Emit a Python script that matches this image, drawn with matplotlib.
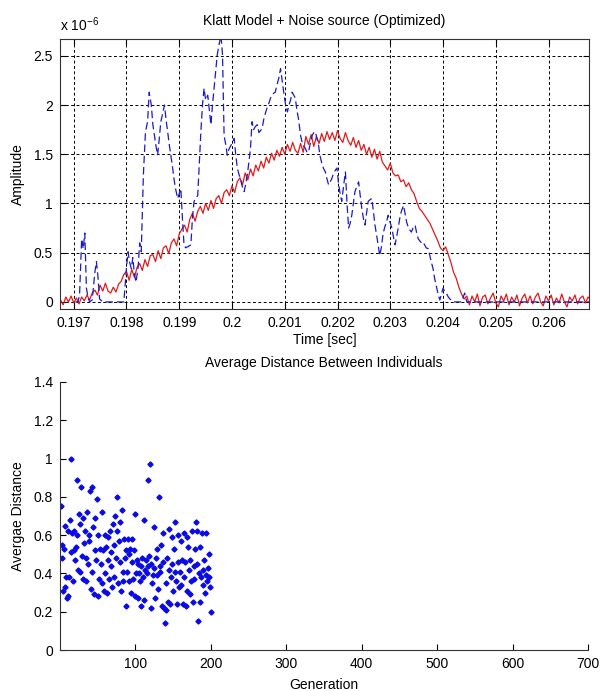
import matplotlib
matplotlib.use('Agg')
import matplotlib.pyplot as plt
from matplotlib.ticker import FuncFormatter
import numpy as np

plt.rcParams['font.family'] = ['Liberation Sans', 'DejaVu Sans']
plt.rcParams['font.size'] = 10

###############################################################################
# Data

# Klatt model output (red), sampled every 0.05 ms starting at t0
t0 = 0.19675
dt = 0.00005
klatt_amp = [
    0.02, -0.03, 0.05, 0.00, 0.06, -0.01, 0.04, -0.02, 0.05, 0.01,
    0.07, 0.02, 0.09, 0.12, 0.07, 0.17, 0.11, 0.19, 0.11, 0.09,
    0.15, 0.10, 0.18, 0.21, 0.28, 0.31, 0.22, 0.33, 0.25, 0.35,
    0.39, 0.32, 0.43, 0.36, 0.47, 0.48, 0.41, 0.52, 0.44, 0.55,
    0.57, 0.49, 0.60, 0.64, 0.57, 0.69, 0.74, 0.78, 0.71, 0.84,
    0.90, 0.82, 0.92, 0.97, 0.90, 1.00, 0.93, 1.03, 0.95, 1.05,
    1.08, 1.00, 1.11, 1.14, 1.08, 1.18, 1.11, 1.22, 1.26, 1.19,
    1.31, 1.24, 1.35, 1.28, 1.39, 1.33, 1.43, 1.36, 1.47, 1.41,
    1.51, 1.44, 1.54, 1.48, 1.57, 1.50, 1.60, 1.53, 1.62, 1.54,
    1.51, 1.61, 1.52, 1.68, 1.60, 1.70, 1.58, 1.68, 1.61, 1.71,
    1.63, 1.73, 1.65, 1.72, 1.64, 1.74, 1.66, 1.62, 1.72, 1.64,
    1.59, 1.67, 1.57, 1.64, 1.54, 1.60, 1.50, 1.57, 1.47, 1.55,
    1.45, 1.53, 1.42, 1.38, 1.34, 1.41, 1.31, 1.28, 1.29, 1.22,
    1.24, 1.17, 1.21, 1.14, 1.10, 1.02, 0.95, 0.92, 0.88, 0.84,
    0.80, 0.74, 0.68, 0.62, 0.55, 0.52, 0.56, 0.48, 0.40, 0.30,
    0.24, 0.15, 0.08, 0.03, 0.06, -0.03, 0.06, 0.00, 0.08, -0.04,
    0.05, 0.07, -0.02, 0.04, 0.09, -0.01, -0.05, 0.06, 0.01, 0.08,
    -0.03, 0.05, 0.00, 0.07, -0.04, 0.04, 0.08, -0.01, 0.06, -0.02,
    0.05, 0.09, 0.00, -0.04, 0.06, 0.01, 0.07, -0.03, 0.04, -0.01,
    0.08, 0.00, -0.05, 0.05, 0.01, 0.07, -0.02, 0.04, 0.06, -0.01,
    0.05, 0.02,
]

# Noise source (blue dashed)
noise_t = [
    0.19703, 0.19708, 0.19711, 0.19715, 0.19718, 0.19721, 0.19724, 0.19727, 0.19730, 0.19735,
    0.19740, 0.19743, 0.19746, 0.19749, 0.19755, 0.19795, 0.19800, 0.19803, 0.19806, 0.19809,
    0.19812, 0.19815, 0.19818, 0.19822, 0.19825, 0.19828, 0.19832, 0.19836, 0.19840, 0.19843,
    0.19847, 0.19850, 0.19853, 0.19856, 0.19859, 0.19862, 0.19865, 0.19868, 0.19872, 0.19875,
    0.19878, 0.19881, 0.19884, 0.19887, 0.19890, 0.19893, 0.19897, 0.19900, 0.19903, 0.19906,
    0.19909, 0.19912, 0.19916, 0.19919, 0.19922, 0.19925, 0.19928, 0.19931, 0.19935, 0.19938,
    0.19941, 0.19944, 0.19947, 0.19950, 0.19954, 0.19957, 0.19960, 0.19963, 0.19966, 0.19969,
    0.19972, 0.19975, 0.19979, 0.19982, 0.19985, 0.19988, 0.19991, 0.19994, 0.19998, 0.20001,
    0.20004, 0.20007, 0.20010, 0.20013, 0.20016, 0.20019, 0.20023, 0.20026, 0.20029, 0.20032,
    0.20035, 0.20038, 0.20041, 0.20044, 0.20048, 0.20051, 0.20054, 0.20057, 0.20060, 0.20064,
    0.20067, 0.20070, 0.20073, 0.20076, 0.20079, 0.20082, 0.20085, 0.20089, 0.20092, 0.20095,
    0.20098, 0.20101, 0.20105, 0.20108, 0.20111, 0.20114, 0.20117, 0.20120, 0.20123, 0.20126,
    0.20130, 0.20133, 0.20136, 0.20139, 0.20142, 0.20145, 0.20148, 0.20152, 0.20155, 0.20158,
    0.20161, 0.20164, 0.20167, 0.20171, 0.20174, 0.20177, 0.20180, 0.20183, 0.20186, 0.20189,
    0.20192, 0.20196, 0.20199, 0.20202, 0.20205, 0.20208, 0.20212, 0.20215, 0.20218, 0.20221,
    0.20224, 0.20227, 0.20230, 0.20233, 0.20237, 0.20240, 0.20243, 0.20246, 0.20249, 0.20252,
    0.20255, 0.20258, 0.20262, 0.20265, 0.20268, 0.20271, 0.20274, 0.20277, 0.20280, 0.20283,
    0.20286, 0.20289, 0.20292, 0.20296, 0.20299, 0.20303, 0.20306, 0.20309, 0.20312, 0.20315,
    0.20318, 0.20321, 0.20325, 0.20328, 0.20331, 0.20334, 0.20337, 0.20340, 0.20343, 0.20347,
    0.20350, 0.20353, 0.20356, 0.20359, 0.20362, 0.20365, 0.20368, 0.20372, 0.20375, 0.20378,
    0.20381, 0.20384, 0.20388, 0.20391, 0.20394, 0.20397, 0.20400, 0.20403, 0.20406, 0.20410,
    0.20413, 0.20420, 0.20435, 0.20441, 0.20445, 0.20680,
]
noise_amp = [
    0.00, 0.00, 0.07, 0.64, 0.54, 0.70, 0.14, 0.05, 0.00, 0.02,
    0.30, 0.41, 0.25, 0.03, 0.00, 0.00, 0.35, 0.51, 0.40, 0.34,
    0.45, 0.28, 0.20, 0.35, 0.60, 0.51, 1.29, 1.73, 1.83, 2.13,
    2.00, 1.80, 1.69, 1.58, 1.49, 1.65, 1.83, 1.90, 2.00, 1.85,
    1.73, 1.60, 1.49, 1.38, 1.25, 1.15, 1.05, 1.10, 1.15, 0.85,
    0.58, 0.55, 0.56, 0.57, 0.58, 0.85, 1.02, 1.05, 1.08, 1.40,
    1.73, 2.00, 2.17, 2.05, 2.10, 1.95, 1.80, 2.00, 2.17, 2.35,
    2.51, 2.60, 2.71, 2.51, 1.69, 1.60, 1.49, 1.55, 1.59, 1.62,
    1.66, 1.50, 1.36, 1.30, 1.25, 1.18, 1.12, 1.20, 1.29, 1.42,
    1.56, 1.83, 1.75, 1.78, 1.80, 1.72, 1.74, 1.76, 1.85, 1.93,
    1.98, 2.02, 2.07, 2.10, 2.12, 2.13, 2.20, 2.28, 2.37, 2.25,
    2.13, 2.02, 1.93, 2.00, 2.05, 2.13, 2.10, 2.07, 1.95, 1.86,
    1.69, 1.62, 1.58, 1.56, 1.52, 1.52, 1.60, 1.69, 1.72, 1.73,
    1.66, 1.59, 1.48, 1.39, 1.35, 1.32, 1.25, 1.19, 1.22, 1.25,
    1.30, 1.34, 1.36, 1.20, 1.10, 1.02, 1.20, 1.32, 1.00, 0.75,
    0.80, 0.88, 1.00, 1.12, 1.18, 1.22, 1.08, 0.95, 0.85, 0.78,
    0.90, 1.02, 1.04, 1.05, 0.92, 0.78, 0.68, 0.58, 0.47, 0.55,
    0.68, 0.75, 0.80, 0.88, 0.82, 0.75, 0.66, 0.58, 0.66, 0.75,
    0.85, 0.92, 0.98, 0.90, 0.81, 0.76, 0.73, 0.71, 0.75, 0.78,
    0.70, 0.64, 0.62, 0.60, 0.61, 0.58, 0.55, 0.54, 0.47, 0.40,
    0.34, 0.24, 0.14, 0.07, 0.02, 0.08, 0.14, 0.11, 0.09, 0.05,
    0.03, 0.00, 0.00, 0.09, 0.00, 0.00,
]
amp_scale = 1e-6   # amplitudes above are in units of 1e-6

# Average distance between individuals, one value per generation 1..200
avg_dist = [
    0.75, 0.55, 0.48, 0.31, 0.53, 0.33, 0.65, 0.38, 0.27, 0.62,
    0.28, 0.38, 0.68, 0.51, 1.00, 0.61, 0.36, 0.52, 0.62, 0.47,
    0.54, 0.89, 0.60, 0.42, 0.71, 0.66, 0.41, 0.85, 0.49, 0.69,
    0.37, 0.56, 0.62, 0.36, 0.48, 0.72, 0.45, 0.60, 0.57, 0.83,
    0.32, 0.41, 0.85, 0.64, 0.29, 0.69, 0.52, 0.47, 0.79, 0.28,
    0.60, 0.37, 0.53, 0.45, 0.72, 0.35, 0.52, 0.31, 0.60, 0.40,
    0.54, 0.30, 0.47, 0.59, 0.37, 0.62, 0.44, 0.51, 0.33, 0.66,
    0.55, 0.38, 0.70, 0.48, 0.62, 0.80, 0.35, 0.57, 0.46, 0.67,
    0.31, 0.73, 0.41, 0.36, 0.58, 0.48, 0.23, 0.52, 0.41, 0.58,
    0.36, 0.50, 0.53, 0.30, 0.46, 0.58, 0.37, 0.52, 0.28, 0.71,
    0.40, 0.47, 0.27, 0.45, 0.40, 0.36, 0.44, 0.23, 0.48, 0.38,
    0.68, 0.26, 0.42, 0.47, 0.40, 0.89, 0.44, 0.49, 0.97, 0.22,
    0.45, 0.35, 0.39, 0.43, 0.64, 0.27, 0.48, 0.39, 0.53, 0.32,
    0.80, 0.44, 0.41, 0.55, 0.23, 0.61, 0.46, 0.22, 0.14, 0.35,
    0.21, 0.48, 0.25, 0.63, 0.42, 0.24, 0.38, 0.59, 0.45, 0.31,
    0.53, 0.41, 0.67, 0.36, 0.24, 0.46, 0.60, 0.33, 0.41, 0.57,
    0.34, 0.47, 0.24, 0.61, 0.38, 0.46, 0.23, 0.59, 0.31, 0.54,
    0.42, 0.29, 0.47, 0.36, 0.62, 0.25, 0.44, 0.37, 0.53, 0.67,
    0.45, 0.62, 0.15, 0.40, 0.25, 0.54, 0.38, 0.61, 0.42, 0.34,
    0.47, 0.30, 0.39, 0.61, 0.36, 0.43, 0.50, 0.38, 0.33, 0.20,
]

top_xticks = [0.197, 0.198, 0.199, 0.200, 0.201, 0.202, 0.203, 0.204, 0.205, 0.206]
top_yticks = [0, 0.5, 1, 1.5, 2, 2.5]
bot_xticks = [100, 200, 300, 400, 500, 600, 700]
bot_yticks = [0, 0.2, 0.4, 0.6, 0.8, 1.0, 1.2, 1.4]

###############################################################################
# Figure

fig = plt.figure(figsize=(6.02, 6.91), dpi=100)
fmt_g = FuncFormatter(lambda v, p: '%g' % v)

# Top panel: Klatt model + noise source
ax1 = fig.add_axes([0.0997, 0.5528, 0.879, 0.3907])
t_klatt = t0 + dt * np.arange(len(klatt_amp))
ax1.plot(t_klatt, np.array(klatt_amp) * amp_scale, color='#e01a1a', lw=0.9)
ax1.plot(noise_t, np.array(noise_amp) * amp_scale, color='#1a1ac8', lw=0.9,
         linestyle=(0, (6, 3)))

ax1.set_xlim(0.19674, 0.20677)
ax1.set_ylim(-0.072 * amp_scale, 2.67 * amp_scale)
ax1.set_xticks(top_xticks)
ax1.set_yticks([v * amp_scale for v in top_yticks])
ax1.xaxis.set_major_formatter(fmt_g)
ax1.yaxis.set_major_formatter(FuncFormatter(lambda v, p: '%g' % round(v / amp_scale, 3)))
ax1.grid(True, color='black', linestyle=(0, (3, 2.5)), lw=0.7)
ax1.tick_params(direction='in', top=True, right=True, length=4, labelsize=10, pad=5)
for s in ax1.spines.values():
    s.set_linewidth(0.8)
    s.set_color('#333333')
ax1.set_title('Klatt Model + Noise source (Optimized)', fontsize=10, pad=10)
ax1.set_xlabel('Time [sec]', fontsize=10, labelpad=2)
ax1.set_ylabel('Amplitude', fontsize=10, labelpad=6)
ax1.text(0.0, 1.02, r'x 10$^{\mathregular{-6}}$', transform=ax1.transAxes, ha='left',
         va='bottom', fontsize=10)

# Bottom panel: average distance per generation
ax2 = fig.add_axes([0.0997, 0.0593, 0.877, 0.388])
generation = np.arange(1, len(avg_dist) + 1)
ax2.plot(generation, avg_dist, linestyle='none', marker='D', ms=2.6,
         color='#0a0ae6', mec='#0a0ae6')
ax2.set_xlim(0, 700)
ax2.set_ylim(0, 1.4)
ax2.set_xticks(bot_xticks)
ax2.set_yticks(bot_yticks)
ax2.xaxis.set_major_formatter(fmt_g)
ax2.yaxis.set_major_formatter(fmt_g)
ax2.spines['top'].set_visible(False)
ax2.spines['right'].set_visible(False)
for s in ['left', 'bottom']:
    ax2.spines[s].set_linewidth(0.8)
    ax2.spines[s].set_color('#333333')
ax2.tick_params(direction='in', length=4, labelsize=10, pad=5)
ax2.set_title('Average Distance Between Individuals', fontsize=10, pad=11)
ax2.set_xlabel('Generation', fontsize=10, labelpad=5)
ax2.set_ylabel('Avergae Distance', fontsize=10, labelpad=6)

fig.savefig('out.png', dpi=100)
